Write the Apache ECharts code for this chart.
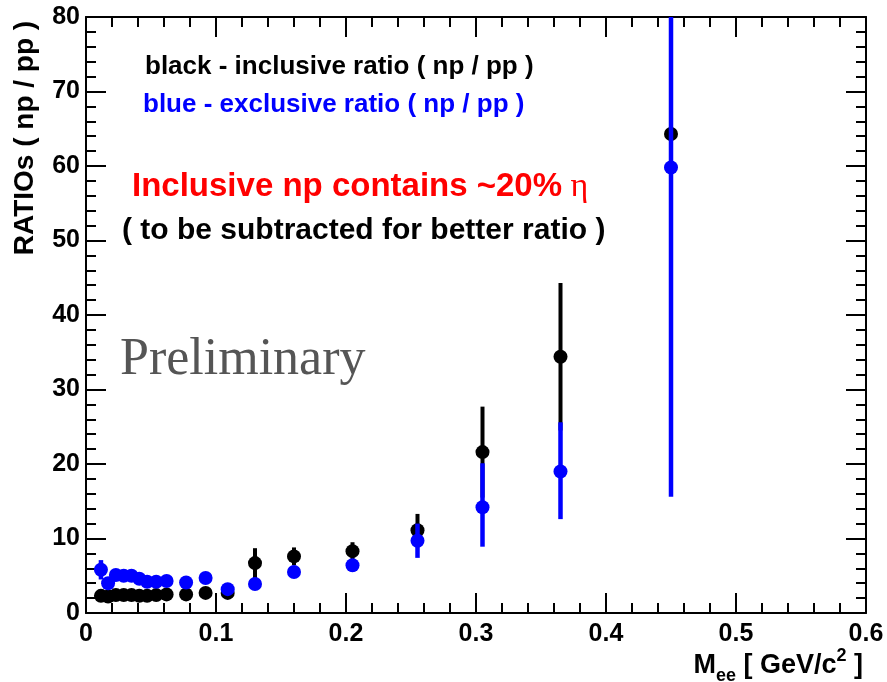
<!DOCTYPE html>
<html>
<head>
<meta charset="utf-8">
<script src="https://cdn.jsdelivr.net/npm/echarts@6/dist/echarts.min.js"></script>
<style>
  html, body { margin: 0; padding: 0; background: #fff; }
  #chart { width: 887px; height: 682px; }
</style>
</head>
<body>
<div id="chart"></div>
<script>
// Dielectron invariant mass bins (GeV/c^2)
const mass = [0.0115, 0.017, 0.023, 0.029, 0.035, 0.041, 0.047, 0.054, 0.062,
              0.077, 0.092, 0.109, 0.13, 0.16, 0.205, 0.255, 0.305, 0.365, 0.45];

// Inclusive np/pp ratio (black) with symmetric errors
const inclRatio = [2.3, 2.2, 2.4, 2.4, 2.4, 2.3, 2.3, 2.4, 2.5,
                   2.5, 2.7, 2.7, 6.7, 7.6, 8.3, 11.1, 21.6, 34.4, 64.3];
const inclErr   = [0.3, 0.3, 0.3, 0.3, 0.3, 0.3, 0.3, 0.3, 0.3,
                   0.3, 0.4, 0.4, 2.0, 1.2, 1.2, 2.2, 6.1, 9.9, 15.0];

// Exclusive np/pp ratio (blue) with upper / lower errors
const exclRatio   = [5.8, 4.0, 5.1, 5.0, 5.0, 4.6, 4.2, 4.2, 4.3,
                     4.1, 4.7, 3.2, 3.9, 5.5, 6.4, 9.7, 14.2, 19.0, 59.8];
const exclErrUp   = [1.3, 0.5, 0.4, 0.4, 0.4, 0.4, 0.4, 0.4, 0.4,
                     0.5, 0.5, 0.5, 0.8, 0.6, 0.8, 2.3, 5.9, 6.6, 44.0];
const exclErrDown = [1.3, 0.5, 0.4, 0.4, 0.4, 0.4, 0.4, 0.4, 0.4,
                     0.5, 0.5, 0.5, 0.8, 0.6, 0.8, 2.3, 5.3, 6.4, 44.2];

const xMin = 0, xMax = 0.6, xStep = 0.1;
const yMin = 0, yMax = 80, yStep = 10;

const BLUE = '#0000ff';
const SANS = '"Liberation Sans", Arial, Helvetica, sans-serif';
const SERIF = '"Liberation Serif", "Times New Roman", serif';

const chart = echarts.init(document.getElementById('chart'));

function frameAxis(extra) {
  return Object.assign({
    type: 'value',
    axisLine: { show: true, onZero: false, lineStyle: { color: '#000', width: 2 } },
    axisTick: { show: true, inside: true, length: 20, lineStyle: { color: '#000', width: 2 } },
    minorTick: { show: true, splitNumber: 5, length: 10, lineStyle: { color: '#000', width: 2 } },
    splitLine: { show: false },
    minorSplitLine: { show: false }
  }, extra);
}

const tickLabel = {
  color: '#000',
  fontFamily: SANS,
  fontWeight: 'bold',
  fontSize: 25
};

function errorBars(vals, down, up, color, width, z) {
  return {
    type: 'custom',
    xAxisIndex: 0,
    yAxisIndex: 0,
    z: z,
    silent: true,
    data: mass.map((m, i) => [m, vals[i], down[i], up[i]]),
    encode: { x: 0, y: 1 },
    renderItem(params, api) {
      const x = api.value(0), y = api.value(1);
      const top = api.coord([x, Math.min(y + api.value(3), yMax)]);
      const bot = api.coord([x, Math.max(y - api.value(2), yMin)]);
      return {
        type: 'line',
        shape: { x1: top[0], y1: top[1], x2: bot[0], y2: bot[1] },
        style: { stroke: color, lineWidth: width }
      };
    }
  };
}

function markers(vals, color, z) {
  return {
    type: 'scatter',
    xAxisIndex: 0,
    yAxisIndex: 0,
    z: z,
    symbol: 'circle',
    symbolSize: 14,
    itemStyle: { color: color, opacity: 1 },
    data: mass.map((m, i) => [m, vals[i]])
  };
}

chart.setOption({
  animation: false,
  backgroundColor: '#fff',
  grid: { left: 86, right: 21, top: 17, bottom: 69, outerBoundsMode: 'none' },
  xAxis: [
    frameAxis({
      position: 'bottom', min: xMin, max: xMax, interval: xStep,
      axisLabel: Object.assign({ margin: 9, showMinLabel: true, showMaxLabel: true }, tickLabel)
    }),
    frameAxis({
      position: 'top', min: xMin, max: xMax, interval: xStep,
      axisLabel: { show: false }
    })
  ],
  yAxis: [
    frameAxis({
      position: 'left', min: yMin, max: yMax, interval: yStep,
      axisLabel: Object.assign({ margin: 6, showMinLabel: true, showMaxLabel: true }, tickLabel)
    }),
    frameAxis({
      position: 'right', min: yMin, max: yMax, interval: yStep,
      axisLabel: { show: false }
    })
  ],
  series: [
    errorBars(inclRatio, inclErr, inclErr, '#000', 4, 2),
    markers(inclRatio, '#000', 3),
    errorBars(exclRatio, exclErrDown, exclErrUp, BLUE, 4.5, 4),
    markers(exclRatio, BLUE, 5)
  ],
  graphic: [
    {
      type: 'text', x: 145, y: 80, z: 10,
      style: { text: 'black - inclusive ratio ( np / pp )', fill: '#000',
               font: 'bold 26px ' + SANS, textVerticalAlign: 'bottom' }
    },
    {
      type: 'text', x: 143, y: 118, z: 10,
      style: { text: 'blue - exclusive ratio ( np / pp )', fill: BLUE,
               font: 'bold 26px ' + SANS, textVerticalAlign: 'bottom' }
    },
    {
      type: 'text', x: 132, y: 204, z: 10,
      style: {
        text: '{a|Inclusive np contains ~20%}{b| η}',
        fill: '#ff0000',
        textVerticalAlign: 'bottom',
        rich: {
          a: { font: 'bold 33px ' + SANS, fill: '#ff0000' },
          b: { font: '34px ' + SERIF, fill: '#ff0000' }
        }
      }
    },
    {
      type: 'text', x: 122, y: 246, z: 10,
      style: { text: '( to be subtracted for better ratio )', fill: '#000',
               font: 'bold 30px ' + SANS, textVerticalAlign: 'bottom' }
    },
    {
      type: 'text', x: 120, y: 386, z: 10,
      style: { text: 'Preliminary', fill: '#555555',
               font: '52px ' + SERIF, textVerticalAlign: 'bottom' }
    },
    {
      type: 'text', x: 25, y: 138, rotation: Math.PI / 2, z: 10,
      style: { text: 'RATIOs ( np / pp )', fill: '#000',
               font: 'bold 28px ' + SANS, textAlign: 'center', textVerticalAlign: 'middle' }
    },
    {
      type: 'text', x: 863, y: 685, z: 10,
      style: {
        text: '{m|M}{s|ee}{m| [ GeV/c}{p|2}{m| ]}',
        textAlign: 'right',
        textVerticalAlign: 'bottom',
        rich: {
          m: { font: 'bold 27px ' + SANS, fill: '#000', verticalAlign: 'bottom',
               lineHeight: 30, padding: [0, 0, 6, 0] },
          s: { font: 'bold 18px ' + SANS, fill: '#000', verticalAlign: 'bottom',
               lineHeight: 22, padding: [0, 0, 0, 0] },
          p: { font: 'bold 18px ' + SANS, fill: '#000', verticalAlign: 'bottom',
               lineHeight: 22, padding: [0, 0, 20, 0] }
        }
      }
    }
  ]
});
</script>
</body>
</html>
